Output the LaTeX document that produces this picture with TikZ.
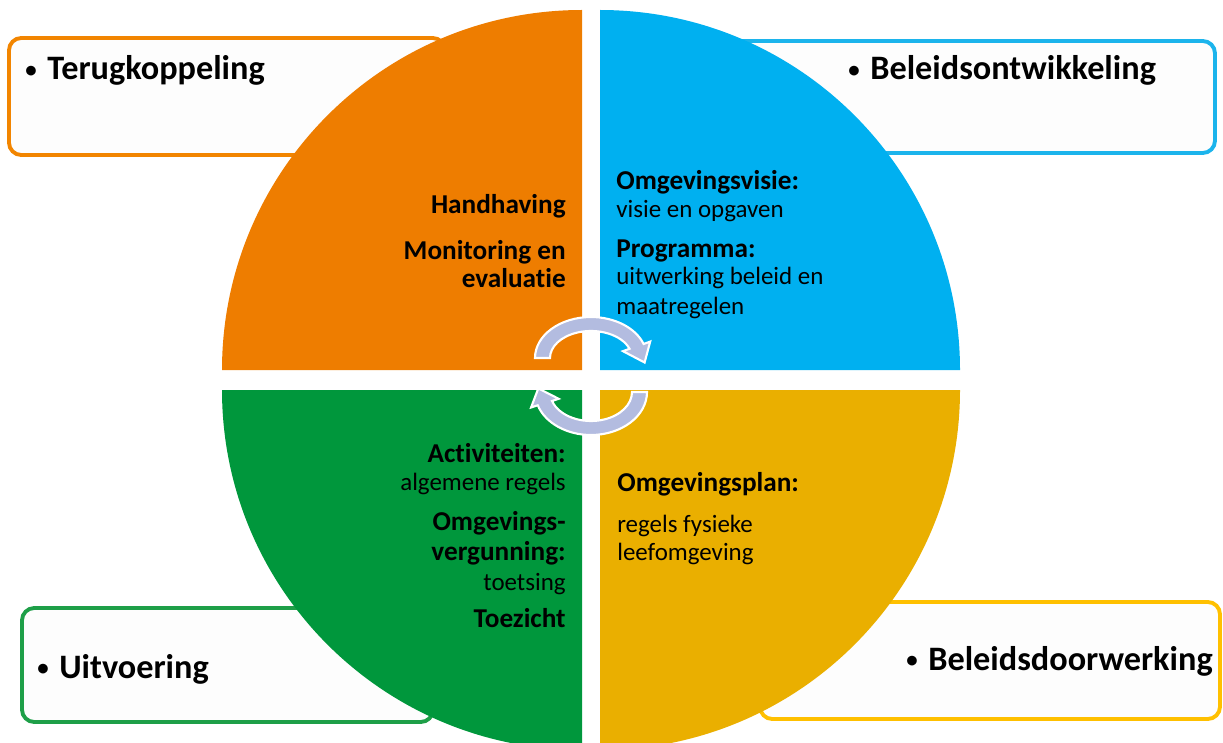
\documentclass[tikz,border=0pt]{standalone}
\usepackage{fontspec}
\setmainfont{Carlito}[Ligatures=NoCommon]
\definecolor{quadorange}{HTML}{EE7D00}
\definecolor{quadblue}{HTML}{00B0F0}
\definecolor{quadgreen}{HTML}{00973C}
\definecolor{quadyellow}{HTML}{EAAF00}
\definecolor{boxorange}{HTML}{F28500}
\definecolor{boxblue}{HTML}{1CB4EC}
\definecolor{boxgreen}{HTML}{1E9F48}
\definecolor{boxyellow}{HTML}{FFC000}
\definecolor{arrowblue}{HTML}{B3BCE0}
\definecolor{boxfill}{HTML}{FDFDFD}
\newcommand{\titlebullet}{\makebox[12.5pt][l]{\raisebox{1.2pt}{\fontsize{13}{13}\selectfont\textbullet}}}

\begin{document}
\begin{tikzpicture}[x=0.02cm, y=-0.02cm,
    sidebox/.style={line width=2.2pt, rounded corners=7pt, fill=boxfill},
    title/.style={font=\fontsize{19.5}{23}\selectfont\bfseries, anchor=base west, inner sep=0pt},
    headl/.style={font=\fontsize{15.5}{18}\selectfont\bfseries, inner sep=0pt},
    bodyl/.style={font=\fontsize{14.2}{17}\selectfont, inner sep=0pt},
    cyclearrow/.style={fill=arrowblue, draw=white, line width=1.2pt}]
        \useasboundingbox (0,0) rectangle (1223,743);
        \clip (0,0) rectangle (1223,743);

        % Side boxes (behind the circle)
        \draw[sidebox, draw=boxorange] (9,38) rectangle (445,155);
        \draw[sidebox, draw=boxblue] (700,41) rectangle (1215,153);
        \draw[sidebox, draw=boxgreen] (22,608) rectangle (433,722);
        \draw[sidebox, draw=boxyellow] (760,602) rectangle (1220,719);

        % Quadrants
        \fill[quadorange] (582,370) -- (222,370) arc[start angle=180, end angle=270, radius=360] -- cycle;
        \fill[quadblue] (600,370) -- (600,10) arc[start angle=270, end angle=360, radius=360] -- cycle;
        \fill[quadgreen] (582,390) -- (222,390) arc[start angle=180, end angle=90, radius=360] -- cycle;
        \fill[quadyellow] (600,390) -- (960,390) arc[start angle=0, end angle=90, radius=360] -- cycle;

        % Titles
        \node[title] (terugkoppeling) at (25,80) {\titlebullet Terugkoppeling};
        \node[title] (ontwikkeling) at (848,80) {\titlebullet Beleidsontwikkeling};
        \node[title] (uitvoering) at (37,678) {\titlebullet Uitvoering};
        \node[title] (doorwerking) at (906,670) {\titlebullet Beleidsdoorwerking};

        % Top left
        \node[headl, anchor=base east] (handhaving) at (566,214) {Handhaving};
        \node[headl, anchor=base east] (monitoring) at (566,259) {Monitoring en};
        \node[headl, anchor=base east] (evaluatie) at (566,287) {evaluatie};

        % Top right
        \node[headl, anchor=base west] (visie) at (616,190) {Omgevingsvisie:};
        \node[bodyl, anchor=base west] (opgaven) at (616,217) {visie en opgaven};
        \node[headl, anchor=base west] (programma) at (616,257) {Programma:};
        \node[bodyl, anchor=base west] (uitwerking) at (616,284) {uitwerking beleid en};
        \node[bodyl, anchor=base west] (maatregelen) at (616,314) {maatregelen};

        % Bottom left
        \node[headl, anchor=base east] (activiteiten) at (566,462) {Activiteiten:};
        \node[bodyl, anchor=base east] (regels) at (566,490) {algemene regels};
        \node[headl, anchor=base east] (omgevings) at (566,530) {Omgevings-};
        \node[headl, anchor=base east] (vergunning) at (566,560) {vergunning:};
        \node[bodyl, anchor=base east] (toetsing) at (566,590) {toetsing};
        \node[headl, anchor=base east] (toezicht) at (566,627) {Toezicht};

        % Bottom right
        \node[headl, anchor=base west] (plan) at (617,491) {Omgevingsplan:};
        \node[bodyl, anchor=base west] (fysiek) at (617,532) {regels fysieke};
        \node[bodyl, anchor=base west] (leefomgeving) at (617,560) {leefomgeving};

        % Cycle arrows
        \coordinate (c1) at (591,358);
        \coordinate (c2) at (591,392);
        \filldraw[cyclearrow] ([shift={(180:56 and 41)}]c1) arc[start angle=180, end angle=340, x radius=56, y radius=41]
            -- ([shift={(340:63 and 48)}]c1) -- ([shift={(53.6,4.5)}]c1) -- ([shift={(340:34 and 20)}]c1)
            -- ([shift={(340:41 and 27)}]c1) arc[start angle=340, end angle=180, x radius=41, y radius=27] -- cycle;
        \filldraw[cyclearrow] ([shift={(0:56 and 43)}]c2) arc[start angle=0, end angle=162, x radius=56, y radius=43]
            -- ([shift={(162:63 and 50)}]c2) -- ([shift={(-52.7,-3.6)}]c2) -- ([shift={(162:34 and 22)}]c2)
            -- ([shift={(162:41 and 29)}]c2) arc[start angle=162, end angle=0, x radius=41, y radius=29] -- cycle;

    \end{tikzpicture}
\end{document}
